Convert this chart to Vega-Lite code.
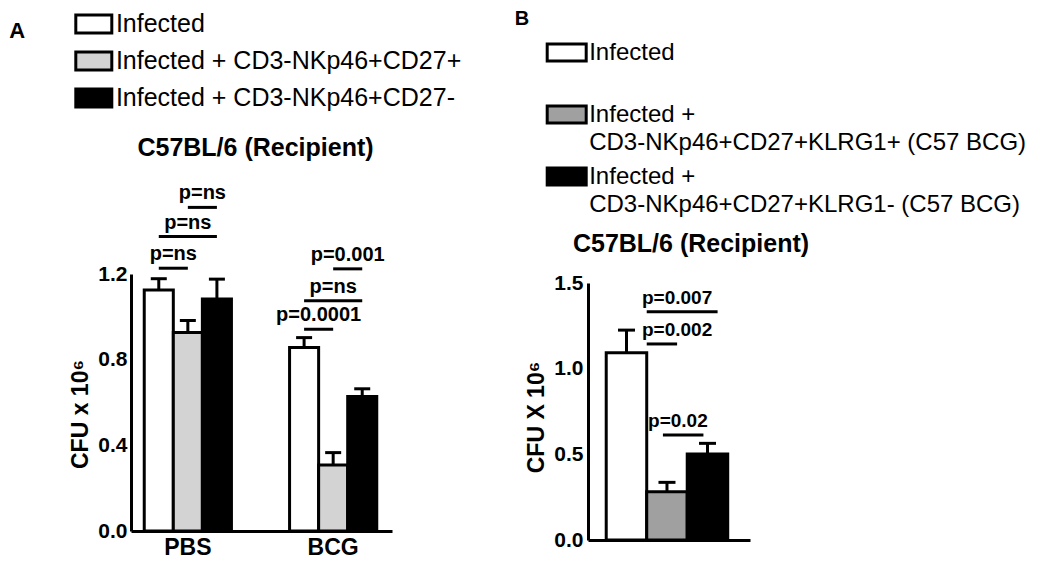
{
  "$schema": "https://vega.github.io/schema/vega-lite/v6.json",
  "padding": {"left": 9, "top": 4, "right": 5, "bottom": 5},
  "bounds": "flush",
  "spacing": 196,
  "config": {
    "font": "Liberation Sans",
    "view": {"stroke": null},
    "axis": {"domainColor": "black", "domainWidth": 3, "labelColor": "black", "titleColor": "black", "grid": false, "ticks": false, "labelFontWeight": "bold", "titleFontWeight": "bold", "labelOverlap": false},
    "title": {"font": "Liberation Sans", "fontSize": 25, "fontWeight": "bold", "color": "black", "frame": "group", "anchor": "middle", "baseline": "alphabetic"},
    "legend": {"orient": "none", "direction": "vertical", "padding": 0, "labelLimit": 700, "labelColor": "black", "labelFontSize": 24, "titleColor": "black", "titleFontWeight": "bold", "titleOrient": "left", "titleAnchor": "start", "titleAlign": "left", "symbolStrokeColor": "black", "symbolStrokeWidth": 3, "symbolOpacity": 1}
  },
  "resolve": {"scale": {"fill": "independent", "x": "independent", "y": "independent"}, "legend": {"fill": "independent"}},
  "datasets": {
    "aBars": [
      {"bar": "PBS-1", "group": "PBS", "treatment": "Infected", "cfu": 1.125, "upper": 1.178},
      {"bar": "PBS-2", "group": "PBS", "treatment": "Infected + CD3-NKp46+CD27+", "cfu": 0.927, "upper": 0.983},
      {"bar": "PBS-3", "group": "PBS", "treatment": "Infected + CD3-NKp46+CD27-", "cfu": 1.083, "upper": 1.176},
      {"bar": "BCG-1", "group": "BCG", "treatment": "Infected", "cfu": 0.857, "upper": 0.903},
      {"bar": "BCG-2", "group": "BCG", "treatment": "Infected + CD3-NKp46+CD27+", "cfu": 0.308, "upper": 0.366},
      {"bar": "BCG-3", "group": "BCG", "treatment": "Infected + CD3-NKp46+CD27-", "cfu": 0.628, "upper": 0.664}
    ],
    "aSig": [
      {"from": "PBS-1", "to": "PBS-2", "level": 1.227, "label": "p=ns"},
      {"from": "PBS-1", "to": "PBS-3", "level": 1.375, "label": "p=ns"},
      {"from": "PBS-2", "to": "PBS-3", "level": 1.511, "label": "p=ns"},
      {"from": "BCG-1", "to": "BCG-2", "level": 0.942, "label": "p=0.0001"},
      {"from": "BCG-1", "to": "BCG-3", "level": 1.075, "label": "p=ns"},
      {"from": "BCG-2", "to": "BCG-3", "level": 1.224, "label": "p=0.001"}
    ],
    "bBars": [
      {"treatment": "Infected", "cfu": 1.095, "upper": 1.227},
      {"treatment": "Infected + CD3-NKp46+CD27+KLRG1+ (C57 BCG)", "cfu": 0.282, "upper": 0.337},
      {"treatment": "Infected + CD3-NKp46+CD27+KLRG1- (C57 BCG)", "cfu": 0.503, "upper": 0.565}
    ],
    "bSig": [
      {"from": "Infected", "to": "Infected + CD3-NKp46+CD27+KLRG1- (C57 BCG)", "level": 1.334, "label": "p=0.007"},
      {"from": "Infected", "to": "Infected + CD3-NKp46+CD27+KLRG1+ (C57 BCG)", "level": 1.146, "label": "p=0.002"},
      {"from": "Infected + CD3-NKp46+CD27+KLRG1+ (C57 BCG)", "to": "Infected + CD3-NKp46+CD27+KLRG1- (C57 BCG)", "level": 0.614, "label": "p=0.02"}
    ]
  },
  "hconcat": [
    {
      "width": 261,
      "height": 257,
      "title": {"text": "C57BL/6 (Recipient)", "dx": -6, "offset": -156},
      "layer": [
        {
          "data": {"name": "aBars"},
          "mark": {"type": "bar", "stroke": "black", "strokeWidth": 3, "strokeJoin": "miter"},
          "encoding": {
            "x": {"field": "bar", "type": "nominal", "title": null,
                  "scale": {"domain": ["PBS-1", "PBS-2", "PBS-3", "gap-1", "gap-2", "BCG-1", "BCG-2", "BCG-3"], "paddingInner": 0, "paddingOuter": 0.49, "align": 0.465},
                  "axis": {"labelExpr": "datum.value == 'PBS-2' ? 'PBS' : datum.value == 'BCG-2' ? 'BCG' : ''", "labelAngle": 0, "labelFontSize": 23, "labelPadding": 5}},
            "y": {"field": "cfu", "type": "quantitative",
                  "scale": {"domain": [0, 1.2], "nice": false},
                  "axis": {"values": [0, 0.4, 0.8, 1.2], "format": ".1f", "title": "CFU x 10⁶", "labelFontSize": 21, "titleFontSize": 23, "labelPadding": 4, "titlePadding": 5, "titleY": 140}},
            "fill": {"field": "treatment", "type": "nominal",
                     "scale": {"domain": ["Infected", "Infected + CD3-NKp46+CD27+", "Infected + CD3-NKp46+CD27-"], "range": ["#ffffff", "#d3d3d3", "#000000"]},
                     "legend": {"title": "A", "legendX": -121.7, "legendY": -269.5, "titleBaseline": "line-top", "titleLineHeight": 52.8, "titleFontSize": 22, "titlePadding": 49,
                                "symbolType": "M-1,-0.5H1V0.5H-1Z", "symbolSize": 1296, "labelOffset": 2.6, "rowPadding": 2, "labelFontSize": 25,
                                "encoding": {"title": {"angle": {"value": 0}}}}}
          }
        },
        {
          "data": {"name": "aBars"},
          "mark": {"type": "rule", "strokeWidth": 3, "color": "black"},
          "encoding": {
            "x": {"field": "bar", "type": "nominal", "title": null},
            "y": {"field": "cfu", "type": "quantitative"},
            "y2": {"field": "upper"}
          }
        },
        {
          "data": {"name": "aBars"},
          "mark": {"type": "tick", "orient": "horizontal", "size": 16, "thickness": 3, "color": "black", "opacity": 1},
          "encoding": {
            "x": {"field": "bar", "type": "nominal", "title": null},
            "y": {"field": "upper", "type": "quantitative"}
          }
        },
        {
          "data": {"name": "aSig"},
          "mark": {"type": "rule", "strokeWidth": 3, "color": "black"},
          "encoding": {
            "x": {"field": "from", "type": "nominal", "title": null, "bandPosition": 0.5},
            "x2": {"field": "to", "bandPosition": 0.5},
            "y": {"field": "level", "type": "quantitative"}
          }
        },
        {
          "data": {"name": "aSig"},
          "transform": [{"filter": "!(substring(datum.from, 4) == '1' && substring(datum.to, 4) == '3')"}],
          "mark": {"type": "text", "fontSize": 20, "fontWeight": "bold", "baseline": "bottom", "dy": -4, "color": "black"},
          "encoding": {
            "x": {"field": "from", "type": "nominal", "title": null, "bandPosition": 1},
            "y": {"field": "level", "type": "quantitative"},
            "text": {"field": "label"}
          }
        },
        {
          "data": {"name": "aSig"},
          "transform": [{"filter": "substring(datum.from, 4) == '1' && substring(datum.to, 4) == '3'"}],
          "mark": {"type": "text", "fontSize": 20, "fontWeight": "bold", "baseline": "bottom", "dy": -4, "color": "black"},
          "encoding": {
            "x": {"field": "from", "type": "nominal", "title": null, "bandPosition": 1.5},
            "y": {"field": "level", "type": "quantitative"},
            "text": {"field": "label"}
          }
        }
      ]
    },
    {
      "width": 162,
      "height": 266,
      "title": {"text": "C57BL/6 (Recipient)", "dx": 22, "offset": -225},
      "layer": [
        {
          "data": {"name": "bBars"},
          "mark": {"type": "bar", "stroke": "black", "strokeWidth": 3, "strokeJoin": "miter"},
          "encoding": {
            "x": {"field": "treatment", "type": "nominal", "title": null,
                  "scale": {"domain": ["Infected", "Infected + CD3-NKp46+CD27+KLRG1+ (C57 BCG)", "Infected + CD3-NKp46+CD27+KLRG1- (C57 BCG)"], "paddingInner": 0, "paddingOuter": 0.5, "align": 0.45},
                  "axis": {"labels": false}},
            "y": {"field": "cfu", "type": "quantitative",
                  "scale": {"domain": [0, 1.555], "nice": false},
                  "axis": {"values": [0, 0.5, 1.0, 1.5], "format": ".1f", "title": "CFU X 10⁶", "labelFontSize": 21, "titleFontSize": 23, "labelPadding": 5, "titlePadding": 5, "titleY": 143, "domainDash": [257, 60]}},
            "fill": {"field": "treatment", "type": "nominal",
                     "scale": {"domain": ["Infected", "Infected + CD3-NKp46+CD27+KLRG1+ (C57 BCG)", "Infected + CD3-NKp46+CD27+KLRG1- (C57 BCG)"], "range": ["#ffffff", "#a0a0a0", "#000000"]},
                     "legend": {"title": "B", "legendX": -73.3, "legendY": -242.5, "titleBaseline": "line-bottom", "titleLineHeight": 25, "titleFontSize": 20, "titlePadding": 16,
                                "symbolType": "M-1,-0.44H1V0.44H-1Z", "symbolSize": 1521, "labelOffset": 1.5, "rowPadding": 1,
                                "labelExpr": "indexof(datum.label, 'Infected + ') == 0 ? ['Infected +', substring(datum.label, 11)] : [datum.label, '']",
                                "encoding": {"title": {"angle": {"value": 0}}, "labels": {"lineHeight": {"value": 28}}}}}
          }
        },
        {
          "data": {"name": "bBars"},
          "mark": {"type": "rule", "strokeWidth": 3, "color": "black"},
          "encoding": {
            "x": {"field": "treatment", "type": "nominal", "title": null},
            "y": {"field": "cfu", "type": "quantitative"},
            "y2": {"field": "upper"}
          }
        },
        {
          "data": {"name": "bBars"},
          "mark": {"type": "tick", "orient": "horizontal", "size": 17, "thickness": 3, "color": "black", "opacity": 1},
          "encoding": {
            "x": {"field": "treatment", "type": "nominal", "title": null},
            "y": {"field": "upper", "type": "quantitative"}
          }
        },
        {
          "data": {"name": "bSig"},
          "transform": [{"filter": "datum.from == 'Infected'"}],
          "mark": {"type": "rule", "strokeWidth": 3, "color": "black"},
          "encoding": {
            "x": {"field": "from", "type": "nominal", "title": null, "bandPosition": 1},
            "x2": {"field": "to", "bandPosition": 0.75},
            "y": {"field": "level", "type": "quantitative"}
          }
        },
        {
          "data": {"name": "bSig"},
          "transform": [{"filter": "datum.from != 'Infected'"}],
          "mark": {"type": "rule", "strokeWidth": 3, "color": "black"},
          "encoding": {
            "x": {"field": "from", "type": "nominal", "title": null, "bandPosition": 0.4},
            "x2": {"field": "to", "bandPosition": 0.4},
            "y": {"field": "level", "type": "quantitative"}
          }
        },
        {
          "data": {"name": "bSig"},
          "transform": [{"filter": "datum.from == 'Infected'"}],
          "mark": {"type": "text", "fontSize": 19, "fontWeight": "bold", "baseline": "bottom", "dy": -4, "color": "black"},
          "encoding": {
            "x": {"field": "from", "type": "nominal", "title": null, "bandPosition": 1.75},
            "y": {"field": "level", "type": "quantitative"},
            "text": {"field": "label"}
          }
        },
        {
          "data": {"name": "bSig"},
          "transform": [{"filter": "datum.from != 'Infected'"}],
          "mark": {"type": "text", "fontSize": 19, "fontWeight": "bold", "baseline": "bottom", "dy": -4, "color": "black"},
          "encoding": {
            "x": {"field": "from", "type": "nominal", "title": null, "bandPosition": 0.77},
            "y": {"field": "level", "type": "quantitative"},
            "text": {"field": "label"}
          }
        }
      ]
    }
  ]
}
